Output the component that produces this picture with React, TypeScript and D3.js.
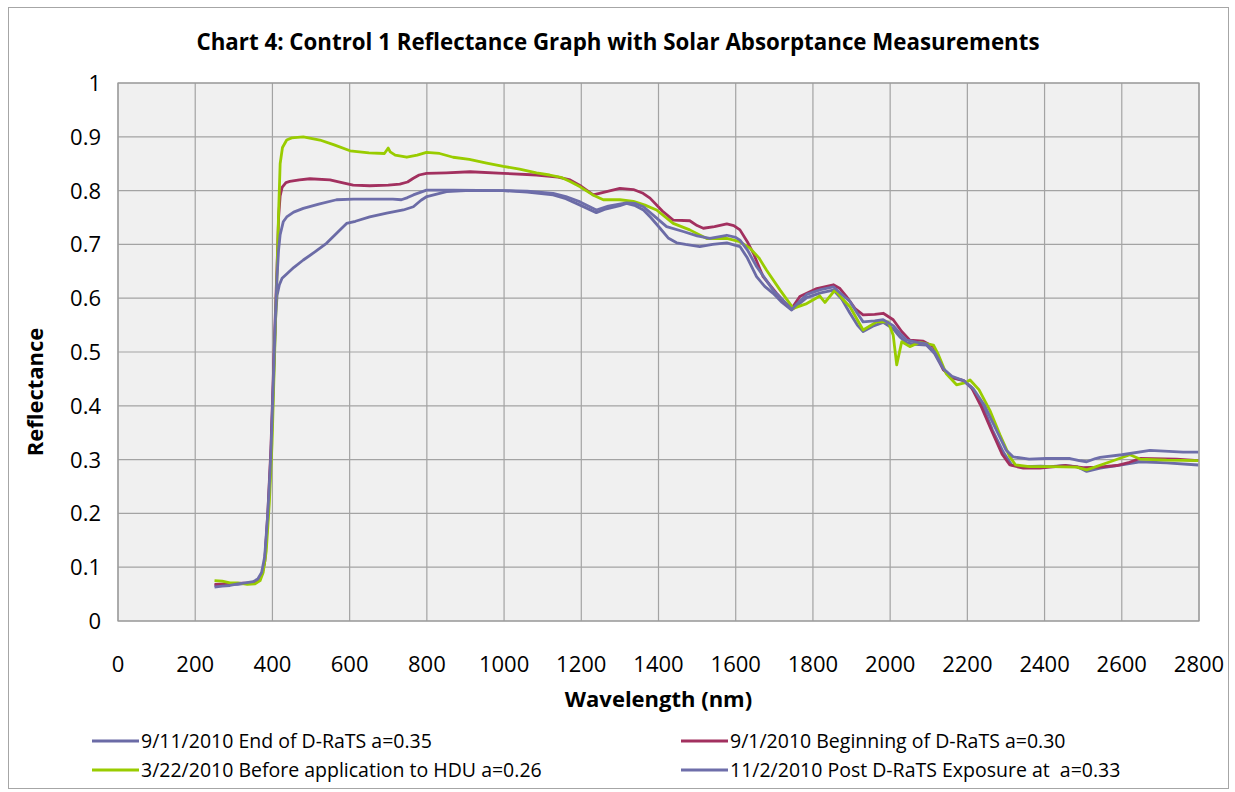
import React from "react";
import * as d3 from "d3";

type Pt = [number, number];

const title = "Chart 4: Control 1 Reflectance Graph with Solar Absorptance Measurements";
const xLabel = "Wavelength (nm)";
const yLabel = "Reflectance";
const xTicks = [0, 200, 400, 600, 800, 1000, 1200, 1400, 1600, 1800, 2000, 2200, 2400, 2600, 2800];
const yTicks = [0, 0.1, 0.2, 0.3, 0.4, 0.5, 0.6, 0.7, 0.8, 0.9, 1];

const seriesNames = [
  "9/11/2010 End of D-RaTS a=0.35",
  "9/1/2010 Beginning of D-RaTS a=0.30",
  "3/22/2010 Before application to HDU a=0.26",
  "11/2/2010 Post D-RaTS Exposure at  a=0.33",
];
const seriesColors = ["#6B6BA6", "#A2305F", "#99CC00", "#6E6EAA"];

const endDRaTS: Pt[] = [
  [250,0.066],[270,0.067],[290,0.068],[310,0.068],[330,0.070],[350,0.071],[362,0.075],[372,0.085],[380,0.11],[388,0.19],[396,0.30],[403,0.45],[408,0.56],[412,0.605],[418,0.625],[425,0.637],[437,0.645],[455,0.657],[480,0.671],[510,0.686],[540,0.702],[565,0.72],[592,0.739],[615,0.743],[652,0.751],[696,0.758],[739,0.764],[765,0.770],[785,0.782],[800,0.789],[851,0.798],[900,0.800],[998,0.800],[1060,0.797],[1127,0.792],[1160,0.785],[1197,0.773],[1239,0.759],[1260,0.765],[1300,0.772],[1317,0.776],[1340,0.772],[1361,0.764],[1380,0.750],[1404,0.730],[1425,0.712],[1447,0.703],[1470,0.700],[1507,0.696],[1540,0.700],[1577,0.703],[1611,0.696],[1630,0.675],[1654,0.640],[1675,0.622],[1697,0.609],[1720,0.592],[1745,0.578],[1765,0.590],[1784,0.601],[1820,0.610],[1853,0.615],[1875,0.598],[1896,0.572],[1915,0.550],[1930,0.538],[1955,0.548],[1982,0.555],[2008,0.543],[2025,0.528],[2043,0.517],[2065,0.514],[2094,0.513],[2115,0.497],[2138,0.467],[2160,0.452],[2190,0.447],[2215,0.430],[2241,0.398],[2265,0.355],[2293,0.314],[2315,0.290],[2345,0.287],[2390,0.288],[2414,0.287],[2456,0.289],[2483,0.287],[2495,0.283],[2509,0.278],[2544,0.284],[2600,0.290],[2647,0.296],[2716,0.294],[2798,0.290]
];

const beginDRaTS: Pt[] = [
  [250,0.068],[280,0.069],[310,0.070],[340,0.071],[360,0.074],[372,0.085],[380,0.11],[388,0.20],[396,0.32],[403,0.47],[408,0.58],[412,0.66],[416,0.75],[420,0.79],[425,0.806],[435,0.815],[445,0.817],[470,0.820],[497,0.822],[549,0.820],[580,0.815],[609,0.810],[652,0.809],[700,0.810],[730,0.812],[750,0.816],[765,0.823],[780,0.829],[799,0.832],[850,0.833],[912,0.835],[998,0.832],[1084,0.829],[1140,0.825],[1171,0.820],[1200,0.808],[1231,0.792],[1260,0.797],[1300,0.804],[1335,0.802],[1360,0.795],[1378,0.786],[1410,0.762],[1438,0.745],[1481,0.744],[1500,0.735],[1516,0.730],[1545,0.733],[1577,0.738],[1595,0.735],[1611,0.727],[1630,0.705],[1646,0.683],[1671,0.640],[1706,0.609],[1730,0.590],[1745,0.581],[1766,0.603],[1810,0.618],[1853,0.625],[1870,0.618],[1887,0.603],[1910,0.580],[1930,0.569],[1960,0.570],[1982,0.572],[2008,0.560],[2030,0.538],[2051,0.522],[2086,0.520],[2112,0.510],[2138,0.467],[2160,0.453],[2190,0.447],[2210,0.435],[2235,0.400],[2262,0.355],[2290,0.310],[2310,0.290],[2345,0.284],[2388,0.284],[2414,0.286],[2456,0.289],[2500,0.285],[2540,0.286],[2587,0.289],[2620,0.295],[2647,0.302],[2742,0.301],[2798,0.298]
];

const beforeHDU: Pt[] = [
  [250,0.075],[270,0.074],[290,0.071],[310,0.071],[335,0.068],[355,0.069],[368,0.075],[376,0.09],[384,0.13],[392,0.22],[399,0.33],[405,0.48],[409,0.58],[412,0.65],[416,0.76],[420,0.85],[426,0.88],[437,0.894],[450,0.898],[480,0.900],[523,0.894],[560,0.885],[601,0.874],[650,0.870],[690,0.869],[700,0.879],[705,0.872],[718,0.866],[748,0.862],[775,0.866],[799,0.871],[833,0.869],[868,0.862],[910,0.858],[955,0.851],[998,0.845],[1040,0.840],[1084,0.833],[1118,0.829],[1150,0.824],[1171,0.817],[1197,0.807],[1230,0.792],[1257,0.783],[1300,0.783],[1335,0.780],[1365,0.773],[1395,0.764],[1438,0.739],[1481,0.727],[1525,0.711],[1577,0.711],[1610,0.705],[1637,0.693],[1660,0.675],[1680,0.652],[1715,0.615],[1749,0.581],[1784,0.590],[1818,0.604],[1831,0.592],[1857,0.615],[1875,0.600],[1896,0.584],[1915,0.560],[1930,0.541],[1965,0.556],[1995,0.556],[2008,0.531],[2017,0.476],[2030,0.519],[2051,0.510],[2077,0.518],[2112,0.513],[2125,0.495],[2145,0.460],[2172,0.439],[2195,0.443],[2207,0.448],[2230,0.430],[2258,0.392],[2285,0.345],[2310,0.305],[2325,0.290],[2360,0.287],[2414,0.287],[2483,0.286],[2509,0.281],[2570,0.296],[2621,0.309],[2647,0.301],[2716,0.299],[2798,0.298]
];

const postDRaTS: Pt[] = [
  [250,0.063],[270,0.065],[290,0.066],[310,0.069],[330,0.071],[350,0.073],[362,0.078],[372,0.09],[380,0.12],[388,0.20],[396,0.31],[403,0.46],[408,0.57],[412,0.64],[416,0.69],[420,0.718],[428,0.742],[437,0.751],[455,0.760],[480,0.767],[520,0.775],[566,0.783],[610,0.784],[652,0.784],[712,0.784],[734,0.783],[750,0.787],[765,0.792],[799,0.801],[868,0.801],[998,0.800],[1060,0.799],[1127,0.795],[1160,0.789],[1197,0.779],[1239,0.764],[1270,0.771],[1317,0.777],[1340,0.776],[1361,0.770],[1390,0.752],[1421,0.733],[1464,0.724],[1500,0.716],[1533,0.711],[1577,0.717],[1600,0.713],[1611,0.708],[1630,0.690],[1654,0.659],[1697,0.615],[1720,0.598],[1745,0.579],[1765,0.594],[1784,0.607],[1820,0.616],[1853,0.621],[1875,0.607],[1896,0.594],[1915,0.572],[1930,0.556],[1960,0.558],[1982,0.560],[2008,0.549],[2025,0.535],[2043,0.522],[2070,0.518],[2094,0.515],[2115,0.500],[2138,0.469],[2160,0.455],[2190,0.447],[2215,0.432],[2245,0.400],[2275,0.355],[2300,0.318],[2319,0.305],[2360,0.301],[2404,0.302],[2466,0.302],[2490,0.298],[2509,0.296],[2532,0.302],[2544,0.304],[2600,0.309],[2673,0.317],[2759,0.314],[2798,0.314]
];

const seriesData: Pt[][] = [endDRaTS, beginDRaTS, beforeHDU, postDRaTS];

const W = 1235;
const H = 792;
const plot = { left: 118, top: 83, right: 1199, bottom: 621 };
const FONT = "'Open Sans', Lato, sans-serif";

export default function App() {
  const x = d3.scaleLinear().domain([0, 2800]).range([plot.left, plot.right]);
  const y = d3.scaleLinear().domain([0, 1]).range([plot.bottom, plot.top]);
  const line = d3
    .line<Pt>()
    .x((d) => x(d[0]))
    .y((d) => y(d[1]));

  const legendPos = [
    { lx: 92, ly: 741 },
    { lx: 681, ly: 741 },
    { lx: 92, ly: 770 },
    { lx: 681, ly: 770 },
  ];

  return (
    <svg
      width={W}
      height={H}
      style={{ position: "absolute", left: 0, top: 0, background: "#fff" }}
    >
      <rect x={8.5} y={7.5} width={1220} height={781} fill="#fff" stroke="#A6A6A6" strokeWidth={1} />
      <text x={618} y={50} textAnchor="middle" fontFamily={FONT} fontWeight="bold" fontSize={22.3} fill="#000">
        {title}
      </text>
      <rect x={plot.left} y={plot.top} width={plot.right - plot.left} height={plot.bottom - plot.top} fill="#F0F0F0" />
      {xTicks.map((t) => (
        <line key={"gx" + t} x1={x(t)} x2={x(t)} y1={plot.top} y2={plot.bottom} stroke="#A3A3A3" strokeWidth={1.2} />
      ))}
      {yTicks.map((t) => (
        <line key={"gy" + t} x1={plot.left} x2={plot.right} y1={y(t)} y2={y(t)} stroke="#A3A3A3" strokeWidth={1.2} />
      ))}
      <rect x={plot.left} y={plot.top} width={plot.right - plot.left} height={plot.bottom - plot.top} fill="none" stroke="#9A9A9A" strokeWidth={1.2} />
      {seriesData.map((s, i) => (
        <path key={"s" + i} d={line(s) || ""} fill="none" stroke={seriesColors[i]} strokeWidth={2.8} strokeLinejoin="round" />
      ))}
      {yTicks.map((t) => (
        <text key={"ty" + t} x={101} y={y(t) + 8} textAnchor="end" fontFamily={FONT} fontSize={22} fill="#000">
          {d3.format("~g")(t)}
        </text>
      ))}
      {xTicks.map((t) => (
        <text key={"tx" + t} x={x(t)} y={672} textAnchor="middle" fontFamily={FONT} fontSize={22} fill="#000">
          {t}
        </text>
      ))}
      <text x={(plot.left + plot.right) / 2} y={707} textAnchor="middle" fontFamily={FONT} fontWeight="bold" fontSize={22} fill="#000">
        {xLabel}
      </text>
      <text transform={`translate(43,392) rotate(-90)`} textAnchor="middle" fontFamily={FONT} fontWeight="bold" fontSize={22} fill="#000">
        {yLabel}
      </text>
      {seriesNames.map((n, i) => (
        <g key={"lg" + i}>
          <line x1={legendPos[i].lx} x2={legendPos[i].lx + 47} y1={legendPos[i].ly} y2={legendPos[i].ly} stroke={seriesColors[i]} strokeWidth={2.8} />
          <text x={legendPos[i].lx + 49} y={legendPos[i].ly + 7} fontFamily={FONT} fontSize={19.5} fill="#000" style={{ whiteSpace: "pre" }}>
            {n}
          </text>
        </g>
      ))}
    </svg>
  );
}
